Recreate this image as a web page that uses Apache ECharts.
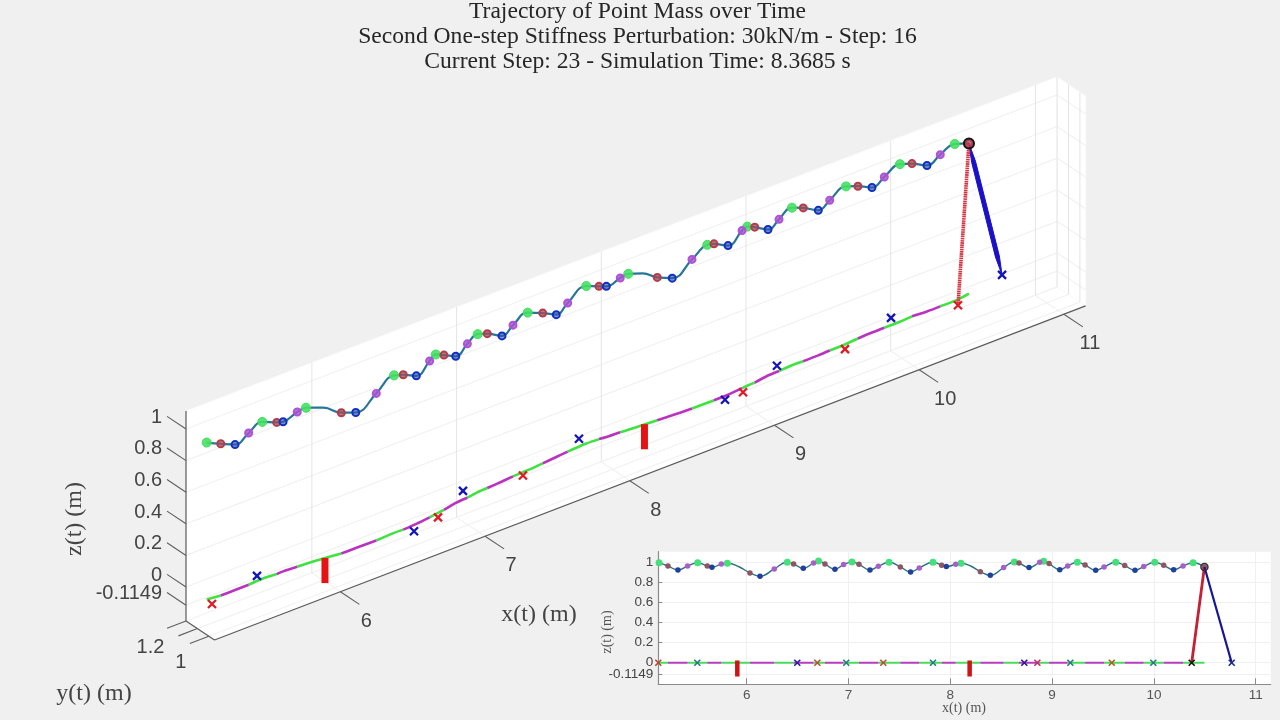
<!DOCTYPE html>
<html><head><meta charset="utf-8">
<style>html,body{margin:0;padding:0;background:#f0f0f0}#c{width:1280px;height:720px}</style>
<script src="https://cdn.jsdelivr.net/npm/echarts@6/dist/echarts.min.js"></script>
</head><body><div id="c"></div>
<script>
// ---- data ----
const trajX=[5.139,5.227,5.325,5.420,5.519,5.613,5.659,5.751,5.810,5.920,6.032,6.131,6.271,6.399,6.461,6.556,6.657,6.706,6.769,6.867,6.952,7.034,7.103,7.211,7.293,7.398,7.509,7.610,7.695,7.830,7.915,7.961,8.053,8.105,8.200,8.295,8.393,8.524,8.629,8.675,8.773,8.878,8.917,8.970,9.075,9.153,9.248,9.324,9.428,9.510,9.625,9.713,9.814,9.900,10.008,10.096,10.194,10.286,10.385,10.496];
const trajY=[1.060,1.037,1.035,1.037,1.049,1.035,1.040,1.025,1.021,0.995,0.965,0.963,0.958,0.972,0.967,0.979,1.002,1.019,1.035,1.077,1.089,1.116,1.123,1.139,1.154,1.163,1.181,1.200,1.216,1.232,1.225,1.212,1.202,1.193,1.180,1.167,1.153,1.139,1.137,1.137,1.139,1.160,1.167,1.170,1.204,1.209,1.223,1.218,1.218,1.226,1.232,1.246,1.256,1.258,1.258,1.270,1.256,1.256,1.254,1.286];
const trajZ=[0.993,0.960,0.921,0.960,0.993,0.960,0.947,0.980,0.987,0.955,0.891,0.858,0.931,0.997,0.980,0.937,0.990,1.010,0.980,0.928,0.974,1.000,0.977,0.921,0.957,0.997,0.951,0.901,0.941,0.997,0.967,0.954,0.977,0.987,0.960,0.904,0.868,0.944,1.000,0.990,0.944,0.997,1.007,0.984,0.924,0.960,0.997,0.970,0.918,0.951,0.997,0.964,0.918,0.954,0.997,0.967,0.924,0.960,0.993,0.950];
const trajPhase=['G','R','B','P','G','R','B','P','G','','R','B','P','G','R','B','P','G','R','B','P','G','R','B','P','G','R','B','P','G','R','B','P','G','','R','B','P','G','R','B','P','G','R','B','P','G','R','B','P','G','R','B','P','G','R','B','P','G','R'];
const footX=[5.132,5.515,6.497,6.694,6.978,7.342,7.830,8.727,8.855,9.179,9.586,9.994,10.371,10.764];
const footY=[0.949,1.132,0.870,0.949,1.232,1.104,1.360,1.075,1.084,1.311,1.151,1.379,1.161,1.386];
const footSide=['R','B','B','R','B','R','B','B','R','B','R','B','R','B'];
const insetFootColor=['#b04a30','#257a80','#2a18a0','#b85030','#257a80','#b85030','#257a80','#2a18a0','#c03060','#257a80','#a86020','#257a80','#101010','#1a2a90'];
const barX=[5.908,8.190];
const barY=[0.937,1.125];
const barZ=[0,-0.1149];
const xTicks=[6,7,8,9,10,11];
const yTicks=[1,1.2,1.4];
const yTickLabels=['1','1.2'];
const zTicks=[-0.1149,0,0.2,0.4,0.6,0.8,1];
const zTickLabels=['-0.1149','0','0.2','0.4','0.6','0.8','1'];
const titleLines=['Trajectory of Point Mass over Time','Second One-step Stiffness Perturbation: 30kN/m - Step: 16','Current Step: 23 - Simulation Time: 8.3685 s'];

// ---- view of the 3-D box ----
const xMin=5.13,xMax=11.15,yMin=0.9,yMax=1.4,zMin=-0.215,zMax=1.114;
const pxX=144.7,pxZ=158;
const A=-57/pxX,B=55.5/pxZ,C=38/pxZ;
const project=(x,y,z)=>[x+A*y,z+B*x+C*y];
const uMin=project(xMin,yMax,zMin)[0]-186/pxX;
const vMin=project(xMin,yMax,zMin)[1]-(720-621)/pxZ;
const uMax=uMin+1280/pxX, vMax=vMin+720/pxZ;
const insetXMin=5.132,insetXMax=11.147,insetZMin=-0.2145,insetZMax=1.102;

const segs=list=>{const out=[];list.forEach(s=>{s.forEach(p=>out.push(project(p[0],p[1],p[2])));out.push([null,null]);});return out;};
const softSegs=[],hardSegs=[];
xTicks.forEach(x=>{hardSegs.push([[x,yMax,zMin],[x,yMax,zMax]]);softSegs.push([[x,yMax,zMin],[x,yMin,zMin]]);});
zTicks.forEach(z=>{softSegs.push([[xMin,yMax,z],[xMax,yMax,z]]);softSegs.push([[xMax,yMax,z],[xMax,yMin,z]]);});
yTicks.forEach(y=>{softSegs.push([[xMin,y,zMin],[xMax,y,zMin]]);hardSegs.push([[xMax,y,zMin],[xMax,y,zMax]]);});
const axisSegs=[[[xMin,yMax,zMin],[xMin,yMax,zMax]],[[xMin,yMax,zMin],[xMin,yMin,zMin]],[[xMin,yMin,zMin],[xMax,yMin,zMin]]];
const tickLenY=1/3,tickLenX=0.131;
const tickSegs=[];
xTicks.forEach(x=>tickSegs.push([[x,yMin,zMin],[x,yMin-tickLenY,zMin]]));
zTicks.forEach(z=>tickSegs.push([[xMin,yMax,z],[xMin,yMax+tickLenY,z]]));
yTicks.forEach(y=>tickSegs.push([[xMin,y,zMin],[xMin-tickLenX,y,zMin]]));
const walls=[
 [[xMin,yMax,zMin],[xMax,yMax,zMin],[xMax,yMax,zMax],[xMin,yMax,zMax]],
 [[xMin,yMax,zMin],[xMax,yMax,zMin],[xMax,yMin,zMin],[xMin,yMin,zMin]],
 [[xMax,yMax,zMin],[xMax,yMin,zMin],[xMax,yMin,zMax],[xMax,yMax,zMax]]
];

const markers=trajX.map((x,i)=>i).filter(i=>trajPhase[i]);
const idxOf=ph=>markers.filter(i=>trajPhase[i]===ph);
const phaseStyle={
 G:{main:{border:'#3fdf5a',fill:'rgba(70,225,100,.9)'},inset:'#45e07a'},
 R:{main:{border:'#b83a4a',fill:'rgba(150,80,90,.75)'},inset:'#8f5560'},
 B:{main:{border:'#1030c4',fill:'rgba(50,80,170,.6)'},inset:'#20409c'},
 P:{main:{border:'#b050dc',fill:'rgba(165,90,195,.8)'},inset:'#a95fc8'}
};
// ground trace: magenta from R through B to P, green from P through G to R
function groundSegments(color,pt){
 const out=[];let mode='green',cur=[];
 for(let i=0;i<trajX.length;i++){
  const ph=trajPhase[i];
  cur.push(i);
  if(ph==='R'&&mode==='green'){ if(color==='green'){cur.forEach(k=>out.push(pt(k)));out.push([null,null]);} cur=[i];mode='mag'; }
  else if(ph==='P'&&mode==='mag'){ if(color==='mag'){cur.forEach(k=>out.push(pt(k)));out.push([null,null]);} cur=[i];mode='green'; }
 }
 return out;
}
const gMain=i=>project(trajX[i],trajY[i],0);
const gInset=i=>[trajX[i],0];
const crossPath='path://M1 1L9 9M1 9L9 1';
const last=trajX.length-1;
const redLeg=[footX.length-2],blueLeg=[footX.length-1];
const massMain=project(trajX[last],trajY[last],trajZ[last]);
const serif='"Liberation Serif","DejaVu Serif",serif';
const sans='"Liberation Sans",Arial,sans-serif';
const tickGray='#444';

const main={xAxisIndex:0,yAxisIndex:0};
const ins={xAxisIndex:1,yAxisIndex:1};
const series=[];
series.push({...main,type:'custom',silent:true,z:1,clip:false,data:walls.map((w,i)=>[i]),
 renderItem:(p,api)=>({type:'polygon',shape:{points:walls[p.dataIndex].map(c=>api.coord(project(c[0],c[1],c[2])))},style:{fill:'#ffffff',stroke:'#fbfbfb',lineWidth:1}})});
const lineS=(o,data,color,width,z,extra)=>({...o,type:'line',data,showSymbol:false,symbol:'none',silent:true,connectNulls:false,z,lineStyle:{color,width,...(extra||{})}});
series.push(lineS(main,segs(softSegs),'#f2f2f2',1.2,2));
series.push(lineS(main,segs(hardSegs),'#e4e4e4',1,2));
series.push(lineS(main,segs(axisSegs),'#5a5a5a',1.2,3));
series.push(lineS(main,segs(tickSegs),'#5f5f5f',1.1,3));
series.push({...lineS(main,groundSegments('green',gMain),'#3fe23f',2.6,5),smooth:0.3});
series.push({...lineS(main,groundSegments('mag',gMain),'#b933c0',2.6,5),smooth:0.3});
barX.forEach((x,i)=>series.push(lineS(main,barZ.map(z=>project(x,barY[i],z)),'#e51414',7,6,{cap:'square'})));
series.push({...lineS(main,trajX.map((x,i)=>project(x,trajY[i],trajZ[i])),'#27769a',2.2,7),smooth:0.45});
['G','R','B','P'].forEach(ph=>{
 series.push({...main,type:'scatter',silent:true,z:8,symbol:'circle',symbolSize:ph==='G'?9:7,
  itemStyle:{color:phaseStyle[ph].main.fill,borderColor:phaseStyle[ph].main.border,borderWidth:ph==='G'?1:2,opacity:1},
  data:idxOf(ph).map(i=>project(trajX[i],trajY[i],trajZ[i]))});
});
[['R','#e01a24'],['B','#1414b8']].forEach(([s,col])=>{
 series.push({...main,type:'scatter',silent:true,z:9,symbol:crossPath,symbolSize:8,
  itemStyle:{color:'none',borderColor:col,borderWidth:2.3,opacity:1},
  data:footX.map((x,i)=>i).filter(i=>footSide[i]===s).map(i=>project(footX[i],footY[i],0))});
});
const redFootMain=project(footX[redLeg[0]],footY[redLeg[0]],0),blueFootMain=project(footX[blueLeg[0]],footY[blueLeg[0]],0);
series.push(lineS(main,[massMain,redFootMain],'#d8303c',3.6,9,{type:[1.6,0.6]}));
const spindle=(a,b,w,fill,o)=>({...o,type:'custom',silent:true,z:9,clip:false,data:[[0]],renderItem:(p,api)=>{
  const s=api.coord(a),e=api.coord(b),dx=e[0]-s[0],dy=e[1]-s[1],l=Math.hypot(dx,dy),nx=-dy/l*w/2,ny=dx/l*w/2;
  const at=t=>[s[0]+dx*t,s[1]+dy*t];
  const q1=at(.14),q2=at(.86);
  return {type:'polygon',shape:{points:[s,[q1[0]+nx,q1[1]+ny],[q2[0]+nx,q2[1]+ny],e,[q2[0]-nx,q2[1]-ny],[q1[0]-nx,q1[1]-ny]]},style:{fill,stroke:fill,lineWidth:1}};
}});
series.push(spindle(massMain,blueFootMain,4,'#1a10c8',main));
series.push({...main,type:'scatter',silent:true,z:10,symbol:'circle',symbolSize:10,itemStyle:{color:'none',borderColor:'#111',borderWidth:2,opacity:1},data:[massMain]});
const txt=(o,pts,labels,font,align,offs,fill)=>({...o,type:'custom',silent:true,z:11,clip:false,data:pts.map((p,i)=>[p[0],p[1]]),
 renderItem:(p,api)=>{const c=api.coord([api.value(0),api.value(1)]);const d=offs(p.dataIndex);
  return {type:'text',x:c[0]+d[0],y:c[1]+d[1],style:{text:labels[p.dataIndex],fill,font,textAlign:align,textVerticalAlign:'middle'}};}});
const f3='20px '+sans;
series.push(txt(main,xTicks.map(x=>project(x,yMin-tickLenY,zMin)),xTicks.map(String),f3,'center',()=>[7,17],tickGray));
series.push(txt(main,zTicks.map(z=>project(xMin,yMax+tickLenY,z)),zTickLabels,f3,'right',()=>[-5,1],tickGray));
series.push(txt(main,yTicks.slice(0,2).map(y=>project(xMin-tickLenX,y,zMin)),yTickLabels,f3,'center',i=>i===0?[-9,19]:[-28,12],tickGray));

// ---- inset ----
series.push({...lineS(ins,groundSegments('green',gInset),'#49dc5a',2,5)});
series.push({...lineS(ins,groundSegments('mag',gInset),'#b73cc0',2,5)});
barX.forEach(x=>series.push(lineS(ins,barZ.map(z=>[x,z]),'#d01414',4.5,6,{cap:'square'})));
series.push({...lineS(ins,trajX.map((x,i)=>[x,trajZ[i]]),'#2b7186',1.4,7),smooth:0.45});
['G','R','B','P'].forEach(ph=>{
 series.push({...ins,type:'scatter',silent:true,z:8,symbol:'circle',symbolSize:ph==='G'?7:5.5,itemStyle:{color:phaseStyle[ph].inset,opacity:1},
  data:idxOf(ph).map(i=>[trajX[i],trajZ[i]])});
});
series.push({...ins,type:'scatter',silent:true,z:9,symbol:crossPath,symbolSize:6,
 data:footX.map((x,i)=>({value:[x,0],itemStyle:{color:'none',borderColor:insetFootColor[i],borderWidth:1.6,opacity:1}}))});
const massIns=[trajX[last],trajZ[last]];
series.push(lineS(ins,[massIns,[footX[redLeg[0]],0]],'#c42036',2.8,9));
series.push(lineS(ins,[massIns,[footX[blueLeg[0]],0]],'#15159a',2.2,9));
series.push({...ins,type:'scatter',silent:true,z:10,symbol:'circle',symbolSize:7,itemStyle:{color:'none',borderColor:'#3a2a2a',borderWidth:1.5,opacity:1},data:[massIns]});
// the tick label that the axis would drop because it sits so close to 0
series.push(txt(ins,[[insetXMin,zTicks[0]]],[zTickLabels[0]],'13.5px '+sans,'right',()=>[-5,0],'#444'));

const hiddenAxis=(min,max,grid)=>({type:'value',gridIndex:grid,min,max,show:false,splitLine:{show:false}});
const option={
 animation:false,backgroundColor:'#f0f0f0',
 title:{text:titleLines.join('\n'),left:632.5,top:-5.5,textAlign:'center',
  textStyle:{fontFamily:serif,fontSize:23.6,fontWeight:'normal',color:'#262626',lineHeight:25}},
 grid:[{left:0,top:0,width:1280,height:720,containLabel:false},
       {left:658.3,top:551.7,width:612.4,height:132.6,backgroundColor:'#fff',show:true,borderWidth:0}],
 xAxis:[hiddenAxis(uMin,uMax,0),
  {type:'value',gridIndex:1,min:insetXMin,max:insetXMax,
   axisLine:{show:true,onZero:false,lineStyle:{color:'#8a8a8a',width:1.2}},
   axisTick:{show:true,inside:true,length:6,customValues:xTicks,lineStyle:{color:'#8a8a8a'}},
   axisLabel:{show:true,customValues:xTicks,color:'#555',fontFamily:sans,fontSize:13.5,margin:4,showMinLabel:true,showMaxLabel:true},
   splitLine:{show:true,lineStyle:{color:'#f0f0f0',width:1}}}],
 yAxis:[hiddenAxis(vMin,vMax,0),
  {type:'value',gridIndex:1,min:insetZMin,max:insetZMax,
   axisLine:{show:true,onZero:false,lineStyle:{color:'#8a8a8a',width:1.2}},
   axisTick:{show:true,inside:true,length:4,customValues:zTicks,lineStyle:{color:'#8a8a8a'}},
   axisLabel:{show:true,customValues:zTicks.slice(1),formatter:v=>zTickLabels[zTicks.findIndex(t=>Math.abs(t-v)<1e-6)],color:'#444',fontFamily:sans,fontSize:13.5,margin:5,showMinLabel:true,showMaxLabel:true},
   splitLine:{show:true,lineStyle:{color:'#f0f0f0',width:1}}}],
 graphic:[
  {type:'text',x:539,y:615,silent:true,style:{text:'x(t) (m)',font:'24px '+serif,fill:'#444',textAlign:'center',textVerticalAlign:'middle'}},
  {type:'text',x:94,y:694,silent:true,style:{text:'y(t) (m)',font:'24px '+serif,fill:'#444',textAlign:'center',textVerticalAlign:'middle'}},
  {type:'text',x:75,y:519,rotation:Math.PI/2,silent:true,style:{text:'z(t) (m)',font:'24px '+serif,fill:'#444',textAlign:'center',textVerticalAlign:'middle'}},
  {type:'text',x:964,y:708,silent:true,style:{text:'x(t) (m)',font:'14px '+serif,fill:'#555',textAlign:'center',textVerticalAlign:'middle'}},
  {type:'text',x:607,y:632,rotation:Math.PI/2,silent:true,style:{text:'z(t) (m)',font:'14px '+serif,fill:'#555',textAlign:'center',textVerticalAlign:'middle'}}
 ],
 series
};
const chart=echarts.init(document.getElementById('c'),null,{renderer:'canvas',width:1280,height:720});
chart.setOption(option);
</script></body></html>
